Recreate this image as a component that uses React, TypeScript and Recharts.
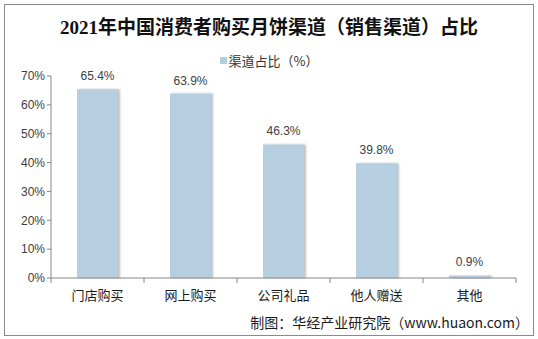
import React from "react";
import { BarChart, Bar, XAxis, YAxis, LabelList } from "recharts";

const channels = ["门店购买", "网上购买", "公司礼品", "他人赠送", "其他"];
const shares = [65.4, 63.9, 46.3, 39.8, 0.9];
const yTicks = [0, 10, 20, 30, 40, 50, 60, 70];
const seriesName = "渠道占比（%）";
const title = "2021年中国消费者购买月饼渠道（销售渠道）占比";
const source = "制图：华经产业研究院（www.huaon.com）";

const data = channels.map((name, i) => ({ name, value: shares[i] }));

const W = 538;
const H = 339;
const PLOT_LEFT = 51;
const PLOT_RIGHT = 516;
const BAND = (PLOT_RIGHT - PLOT_LEFT) / channels.length;
const CJK = '"Noto Sans CJK SC", "Liberation Sans", Arial, sans-serif';

function CategoryTick(props: any) {
  const { x, y, payload, index } = props;
  const isLast = index === channels.length - 1;
  return (
    <g>
      <line x1={x - BAND / 2} x2={x - BAND / 2} y1={y - 8} y2={y - 3} stroke="#868686" />
      {isLast && <line x1={x + BAND / 2} x2={x + BAND / 2} y1={y - 8} y2={y - 3} stroke="#868686" />}
      <text x={x} y={y + 14} textAnchor="middle" fontSize={13} fill="#1a1a1a" fontFamily={CJK}>
        {payload.value}
      </text>
    </g>
  );
}

export default function App() {
  return (
    <div style={{ position: "absolute", left: 0, top: 0, width: W, height: H, background: "#fff" }}>
      <div style={{ position: "absolute", left: 4, top: 4, width: 528, height: 330, border: "1px solid #8a8a8a" }} />
      <div style={{ position: "absolute", left: 0, top: 12, width: W, textAlign: "center", fontFamily: '"Liberation Serif", "Noto Sans CJK SC", serif', fontWeight: "bold", fontSize: 19, color: "#111" }}>
        {title}
      </div>
      <div style={{ position: "absolute", left: 0, top: 51, width: W, display: "flex", justifyContent: "center", alignItems: "center", fontFamily: CJK, fontSize: 13, color: "#333" }}>
        <span style={{ display: "inline-block", width: 7, height: 7, background: "#b5cfe1", marginRight: 2 }} />
        <span>{seriesName}</span>
      </div>
      <BarChart
        width={W}
        height={H}
        data={data}
        margin={{ top: 76, right: W - PLOT_RIGHT, bottom: 31, left: 6 }}
        style={{ position: "absolute", left: 0, top: 0 }}
      >
        <defs>
          <filter id="barShadow" x="-20%" y="-5%" width="140%" height="110%">
            <feDropShadow dx="2" dy="0" stdDeviation="1" floodColor="#000" floodOpacity={0.25} />
          </filter>
        </defs>
        <XAxis
          dataKey="name"
          stroke="#868686"
          tickLine={false}
          tick={<CategoryTick />}
          interval={0}
          height={30}
        />
        <YAxis
          width={45}
          domain={[0, 70]}
          ticks={yTicks}
          tickFormatter={(v: number) => `${v}%`}
          stroke="#868686"
          tickSize={4}
          tick={{ fontSize: 12, fill: "#404040", fontFamily: '"Liberation Sans", Arial, sans-serif' }}
        />
        <Bar dataKey="value" fill="#b5cfe1" barSize={41} isAnimationActive={false} filter="url(#barShadow)">
          <LabelList
            dataKey="value"
            position="top"
            offset={9}
            formatter={(v: any) => `${v}%`}
            style={{ fontSize: 12, fill: "#404040", fontFamily: '"Liberation Sans", Arial, sans-serif' }}
          />
        </Bar>
      </BarChart>
      <div style={{ position: "absolute", right: 9, top: 312, fontFamily: CJK, fontSize: 14, color: "#1a1a1a" }}>
        {source}
      </div>
    </div>
  );
}
